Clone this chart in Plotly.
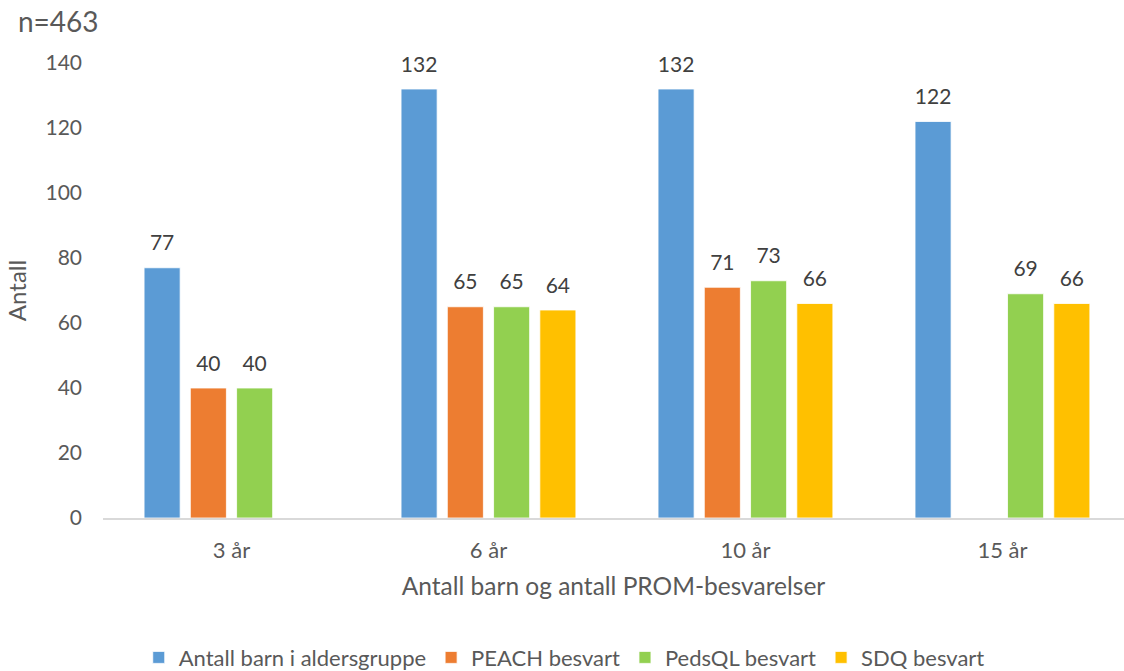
import plotly.graph_objects as go

# Age groups and the number of children / completed PROM forms per group
categories = ["3 år", "6 år", "10 år", "15 år"]
series_names = ["Antall barn i aldersgruppe", "PEACH besvart", "PedsQL besvart", "SDQ besvart"]
antall_barn = [77, 132, 132, 122]
peach = [40, 65, 71, None]
pedsql = [40, 65, 73, 69]
sdq = [None, 64, 66, 66]
colors = ["#5B9BD5", "#ED7D31", "#92D050", "#FFC000"]

FONT = "Lato, 'Open Sans', sans-serif"
GREY = "#595959"

fig = go.Figure()
all_values = [antall_barn, peach, pedsql, sdq]

for i, (name, vals, col) in enumerate(zip(series_names, all_values, colors)):
    fig.add_trace(go.Bar(
        x=categories, y=vals, name=name, offsetgroup=str(i),
        marker=dict(color=col, line=dict(color="white", width=0.8)),
        hoverinfo="x+y+name",
    ))

# Value labels above each bar, grouped the same way as the bars
for i, vals in enumerate(all_values):
    fig.add_trace(go.Scatter(
        x=categories, y=vals, mode="markers+text", offsetgroup=str(i),
        text=[("" if v is None else str(v)) for v in vals],
        textposition="top center",
        textfont=dict(family=FONT, size=21, color="#404040"),
        marker=dict(size=18, color="rgba(0,0,0,0)"),
        showlegend=False, hoverinfo="skip", cliponaxis=False,
    ))

fig.update_layout(
    width=1124, height=671,
    margin=dict(l=103, r=0, t=63, b=153),
    paper_bgcolor="white", plot_bgcolor="white",
    barmode="group", bargap=0.28, bargroupgap=0.22,
    scattermode="group", scattergap=0.28,
    font=dict(family=FONT, color=GREY, size=20),
    title=dict(text="n=463", x=0.016, xref="container", xanchor="left",
               y=0.967, yref="container", yanchor="middle",
               font=dict(family=FONT, size=28, color=GREY)),
    xaxis=dict(
        range=[-0.5, 3.473], showline=True, linecolor="#D9D9D9", linewidth=1.5,
        ticks="", showgrid=False, tickfont=dict(size=22, color=GREY),
        ticklabelstandoff=12,
        title=dict(text="Antall barn og antall PROM-besvarelser", standoff=16,
                   font=dict(size=24.5, color=GREY)),
    ),
    yaxis=dict(
        range=[0, 140], dtick=20, showgrid=False, zeroline=False, showline=False,
        ticks="", tickfont=dict(size=21, color=GREY), ticklabelstandoff=20,
        title=dict(text="Antall", standoff=12, font=dict(size=24, color=GREY)),
    ),
    legend=dict(orientation="h", x=0.502, xanchor="center", xref="container",
                y=0.02, yanchor="middle", yref="container",
                font=dict(size=22, color=GREY), itemwidth=30,
                traceorder="normal"),
)

fig.write_html("out.html")
